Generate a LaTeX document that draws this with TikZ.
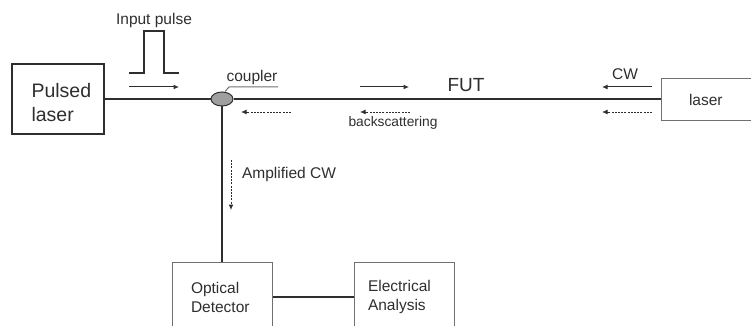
\documentclass[tikz,border=0pt]{standalone}
\usepackage{fontspec}
\setmainfont{Liberation Sans}
\usetikzlibrary{arrows.meta,shapes.geometric}
\definecolor{ink}{HTML}{2E2E2E}
\definecolor{frame}{HTML}{707070}
\newcommand{\fs}[1]{\fontsize{#1}{#1}\selectfont}
\tikzset{
  boxbase/.style={draw=frame,line width=1pt,inner sep=0pt,text=ink,align=left,anchor=center},
  fibre/.style={draw=ink,line width=2pt},
  flow/.style={draw=ink,line width=1pt,-{Latex[length=5.5pt,width=5pt]}},
  flowdash/.style={flow,dash pattern=on 2pt off 1.2pt},
  lab/.style={text=ink,inner sep=0pt,anchor=center},
  smalllab/.style={lab,font=\fs{15.5}},
}
\begin{document}
\begin{tikzpicture}[x=1pt,y=-1pt]
\useasboundingbox (0,0) rectangle (751,326);
\clip (0,0) rectangle (751,326);
% boxes
\node[boxbase,draw=ink,line width=2pt,minimum width=92pt,minimum height=70pt,text width=65pt,font=\fs{19.5},execute at begin node={\baselineskip=24pt}] (pulsed) at (58,99) {\hspace*{6pt}\rule{0pt}{22pt}Pulsed\\\hspace*{6pt}laser};
\node[boxbase,minimum width=95pt,minimum height=41pt,text width=39pt,font=\fs{15.5}] (laser) at (708.5,99.5) {laser};
\node[boxbase,minimum width=100pt,minimum height=70pt,text width=63pt,font=\fs{15.5},execute at begin node={\baselineskip=19pt}] (det) at (222.5,297) {Optical\\Detector};
\node[boxbase,minimum width=100pt,minimum height=70pt,text width=72pt,font=\fs{15.5},execute at begin node={\baselineskip=19pt}] (ana) at (404,297) {Electrical\\Analysis};
\node[draw=ink,fill=gray!75,line width=1pt,ellipse,minimum width=22pt,minimum height=14pt,inner sep=0pt] (coupler) at (222,99) {};
% fibres
\draw[fibre] (pulsed.east |- coupler.west) -- (coupler.west);
\draw[fibre] (coupler.east) -- (laser.west |- coupler.east);
\draw[fibre] (coupler.south) -- (coupler.south |- det.north);
\draw[fibre] (det.east) -- (ana.west);
% labels
\node[smalllab] (inp) at (154,20) {Input pulse};
\node[smalllab] (cpl) at (252,77) {coupler};
\node[lab,font=\fs{19}] (fut) at (466,85) {FUT};
\node[lab,font=\fs{13.8}] (bs) at (393,123) {backscattering};
\node[smalllab] (cw) at (625,74) {CW};
\node[smalllab] (amp) at (289,174) {Amplified CW};
% pulse
\coordinate (p0) at (129,73); \coordinate (p1) at (144,73); \coordinate (p2) at (144,31);
\coordinate (p3) at (164,31); \coordinate (p4) at (164,73); \coordinate (p5) at (179,73);
\draw[draw=ink,line width=1.6pt] (p0) -- (p1) -- (p2) -- (p3) -- (p4) -- (p5);
% coupler leader
\coordinate (l1) at (229,87); \coordinate (l2) at (278,87);
\draw[draw=frame,line width=1pt] (coupler.north) ++(3,0) -- (l1) -- (l2);
% arrows
\coordinate (a1) at (129,87); \coordinate (a2) at (179,87);
\coordinate (b1) at (360,87); \coordinate (b2) at (409,87);
\coordinate (c1) at (652,87); \coordinate (c2) at (602,87);
\draw[flow] (a1) -- (a2);
\draw[flow] (b1) -- (b2);
\draw[flow] (c1) -- (c2);
\coordinate (d1) at (291,112); \coordinate (d2) at (241,112);
\coordinate (e1) at (410,112); \coordinate (e2) at (360,112);
\coordinate (f1) at (652,112); \coordinate (f2) at (602,112);
\coordinate (g1) at (231,160); \coordinate (g2) at (231,210);
\draw[flowdash] (d1) -- (d2);
\draw[flowdash] (e1) -- (e2);
\draw[flowdash] (f1) -- (f2);
\draw[flowdash] (g1) -- (g2);
\end{tikzpicture}
\end{document}
